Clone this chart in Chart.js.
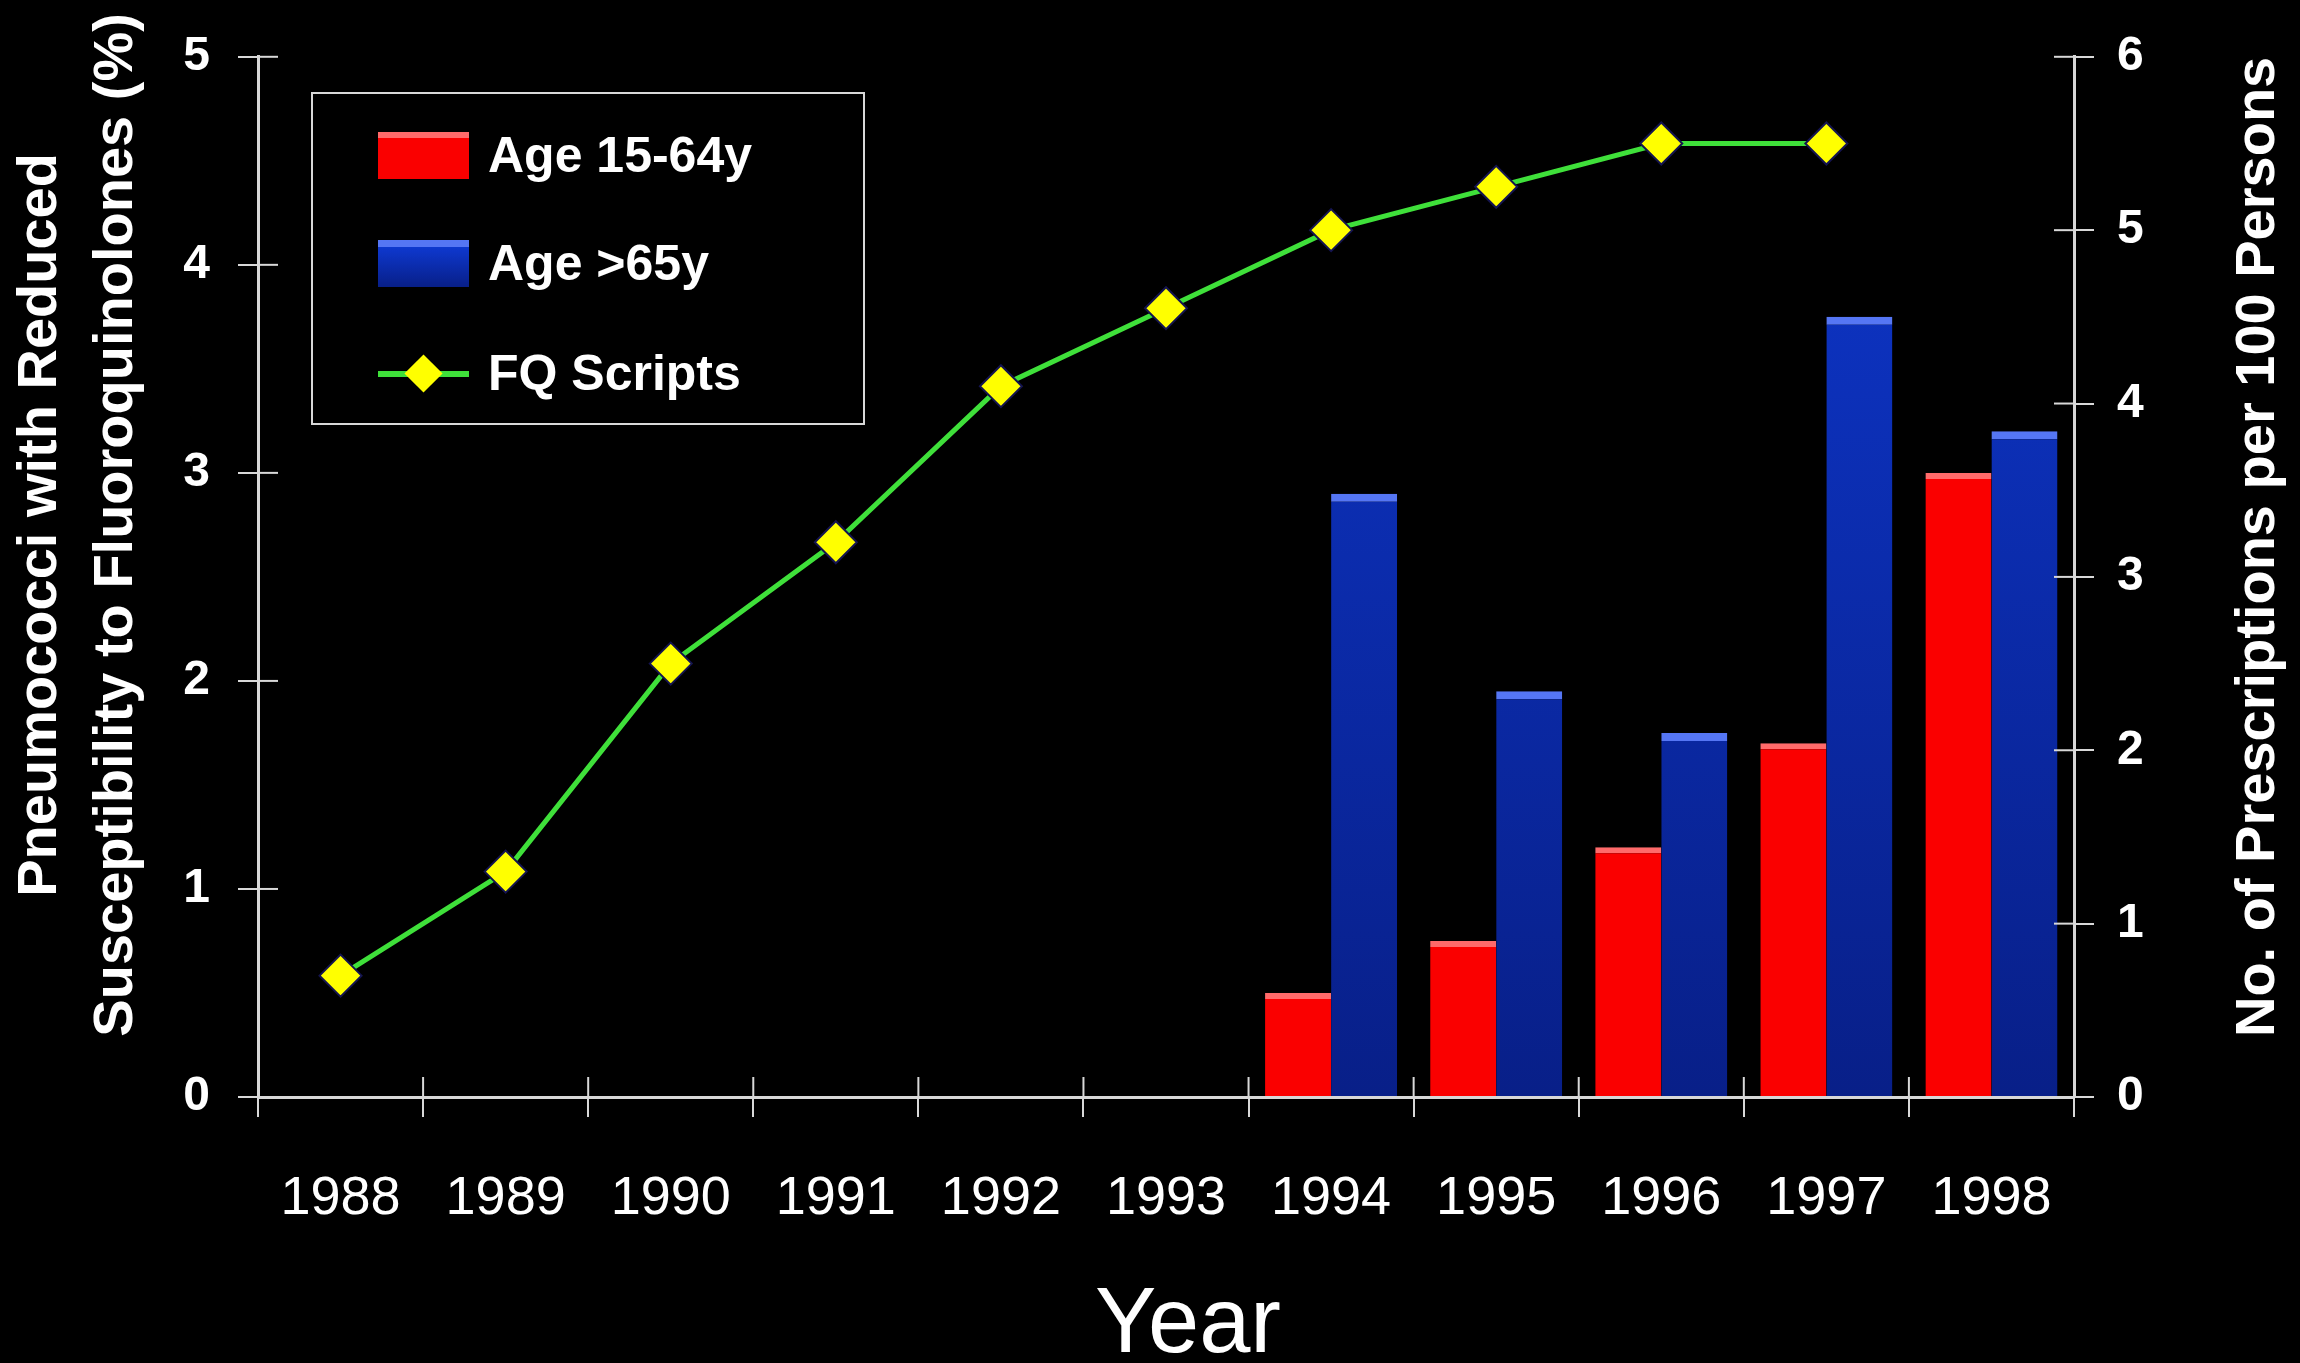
<!DOCTYPE html>
<html>
<head>
<meta charset="utf-8">
<script src="https://cdn.jsdelivr.net/npm/chart.js@4.4.0/dist/chart.umd.min.js"></script>
<style>
html,body{margin:0;padding:0;background:#000;}
#wrap{position:relative;width:2300px;height:1363px;}
#legend{position:absolute;left:311px;top:92px;width:554px;height:333px;border:2px solid #d8d8d8;box-sizing:border-box;
  font-family:"Liberation Sans",Arial,sans-serif;font-weight:bold;font-size:50px;color:#fff;}
.item{position:absolute;left:65px;height:60px;display:flex;align-items:center;}
.sw{width:91px;height:47px;margin-right:19px;position:relative;}
</style>
</head>
<body>
<div id="wrap">
	<canvas id="chart" width="2300" height="1363"></canvas>
	<div id="legend"></div>
</div>
<script>
var years = ['1988','1989','1990','1991','1992','1993','1994','1995','1996','1997','1998'];
var age1564 = [null,null,null,null,null,null,0.5,0.75,1.2,1.7,3.0];
var age65 = [null,null,null,null,null,null,2.9,1.95,1.75,3.75,3.2];
var fqScripts = [0.7,1.3,2.5,3.2,4.1,4.55,5.0,5.25,5.5,5.5,null];
var seriesNames = ['Age 15-64y','Age >65y','FQ Scripts'];
var leftTitle = ['Pneumococci with Reduced','Susceptibility to Fluoroquinolones (%)'];
var rightTitle = 'No. of Prescriptions per 100 Persons';
var xTitle = 'Year';

var axisColor = '#d8d8d8';
Chart.defaults.font.family = '"Liberation Sans", Arial, sans-serif';
Chart.defaults.color = '#fff';

// ticks that cross the axis lines (inside part) + the axis titles
var crossTicks = {
	id:'crossTicks',
	afterDraw:function(chart){
		var ctx = chart.ctx, a = chart.chartArea;
		ctx.save();
		ctx.strokeStyle = axisColor;
		ctx.lineWidth = 2;
		['y','y1'].forEach(function(id){
			var s = chart.scales[id];
			var x = id === 'y' ? a.left : a.right;
			var d = id === 'y' ? 20 : -20;
			s.ticks.forEach(function(t){
				var py = s.getPixelForValue(t.value);
				ctx.beginPath(); ctx.moveTo(x,py); ctx.lineTo(x+d,py); ctx.stroke();
			});
		});
		var xs = chart.scales.x;
		for(var i=0;i<=years.length;i++){
			var px = xs.getPixelForValue(i-0.5);
			ctx.beginPath(); ctx.moveTo(px,a.bottom); ctx.lineTo(px,a.bottom-20); ctx.stroke();
		}
		ctx.fillStyle = '#fff';
		ctx.textAlign = 'center';
		ctx.textBaseline = 'middle';
		// x title
		ctx.font = '92px "Liberation Sans", Arial, sans-serif';
		ctx.fillText(xTitle,(a.left+a.right)/2+22,chart.height-36);
		ctx.font = 'bold 56px "Liberation Sans", Arial, sans-serif';
		var cy = (a.top+a.bottom)/2;
		// right title
		ctx.save();
		ctx.translate(chart.width-41,cy-30);
		ctx.rotate(-Math.PI/2);
		ctx.fillText(rightTitle,0,0);
		ctx.restore();
		// left title, two lines
		ctx.save();
		ctx.translate(41,cy-52);
		ctx.rotate(-Math.PI/2);
		ctx.fillText(leftTitle[0],0,0);
		ctx.fillText(leftTitle[1],0,76);
		ctx.restore();
		ctx.restore();
	}
};

var ctx = document.getElementById('chart');
var myChart = new Chart(ctx, {
	type:'bar',
	data:{
		labels:years,
		datasets:[
			{
				type:'line',
				label:seriesNames[2],
				data:fqScripts,
				yAxisID:'y1',
				order:0,
				borderColor:'#3fe03a',
				borderWidth:5,
				tension:0,
				pointStyle:'rectRot',
				pointRadius:21,
				pointBackgroundColor:'#ffff00',
				pointBorderColor:'#141450',
				pointBorderWidth:2
			},
			{
				label:seriesNames[0],
				data:age1564,
				yAxisID:'y',
				order:1,
				backgroundColor:'#fa0000',
				borderColor:'#ff6a6a',
				borderWidth:{top:6,left:0,right:0,bottom:0},
				borderSkipped:false,
				categoryPercentage:0.8,
				barPercentage:1.0
			},
			{
				label:seriesNames[1],
				data:age65,
				yAxisID:'y',
				order:2,
				backgroundColor:function(c){
					var a = c.chart.chartArea;
					if(!a) return '#0a2aa8';
					var g = c.chart.ctx.createLinearGradient(0,a.top,0,a.bottom);
					g.addColorStop(0,'#0e38cf');
					g.addColorStop(1,'#081f88');
					return g;
				},
				borderColor:'#5576f4',
				borderWidth:{top:8,left:0,right:0,bottom:0},
				borderSkipped:false,
				categoryPercentage:0.8,
				barPercentage:1.0
			}
		]
	},
	options:{
		responsive:false,
		animation:false,
		layout:{autoPadding:false,padding:{top:50,left:0,right:0,bottom:0}},
		plugins:{legend:{display:false},tooltip:{enabled:false}},
		scales:{
			x:{
				offset:true,
				grid:{offset:true,drawOnChartArea:false,color:axisColor,lineWidth:2,tickLength:20},
				border:{color:axisColor,width:3},
				ticks:{font:{size:54},padding:50,color:'#fff'},
				afterFit:function(s){ s.height = 266; }
			},
			y:{
				position:'left',
				min:0,max:5,
				ticks:{stepSize:1,font:{size:48,weight:'bold'},padding:28,color:'#fff'},
				grid:{drawOnChartArea:false,color:axisColor,lineWidth:2,tickLength:20},
				border:{color:axisColor,width:3},
				afterFit:function(s){ s.width = 258; }
			},
			y1:{
				position:'right',
				min:0,max:6,
				ticks:{stepSize:1,font:{size:48,weight:'bold'},padding:23,color:'#fff'},
				grid:{drawOnChartArea:false,color:axisColor,lineWidth:2,tickLength:20},
				border:{color:axisColor,width:3},
				afterFit:function(s){ s.width = 226; }
			}
		}
	},
	plugins:[crossTicks]
});

// legend box, built from the dataset labels
var legend = document.getElementById('legend');
var tops = [31,139,249];
seriesNames.forEach(function(name,i){
	var item = document.createElement('div');
	item.className = 'item';
	item.style.top = tops[i]+'px';
	var sw = document.createElement('div');
	sw.className = 'sw';
	if(i === 0){
		sw.style.background = 'linear-gradient(#ff6a6a 0,#ff6a6a 6px,#fa0000 6px)';
	} else if(i === 1){
		sw.style.background = 'linear-gradient(#5576f4 0,#5576f4 7px,#0e38cf 7px,#081f88)';
	} else {
		sw.innerHTML = '<div style="position:absolute;left:0;top:21px;width:91px;height:6px;background:#3fe03a"></div>'+
			'<div style="position:absolute;left:32px;top:10px;width:27px;height:27px;background:#ffff00;transform:rotate(45deg)"></div>';
	}
	var tx = document.createElement('span');
	tx.textContent = name;
	item.appendChild(sw);
	item.appendChild(tx);
	legend.appendChild(item);
});
</script>
</body>
</html>
